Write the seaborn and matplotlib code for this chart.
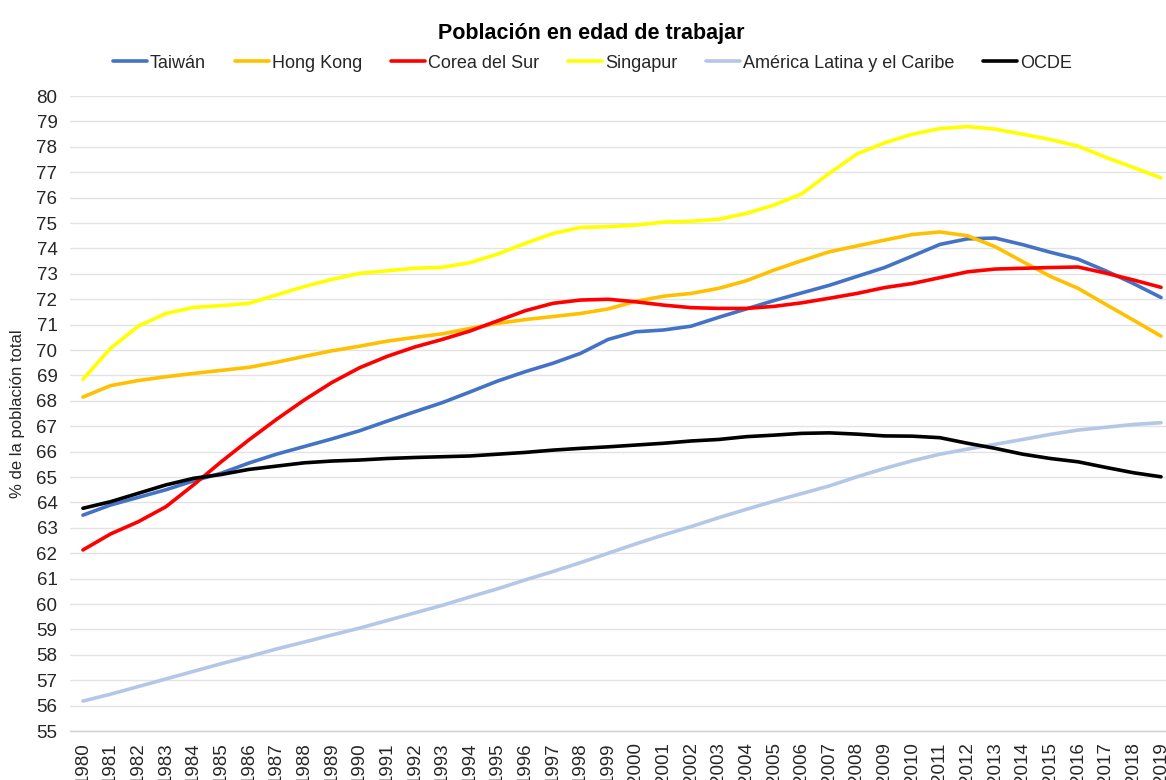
import numpy as np
import pandas as pd
import matplotlib
matplotlib.use("Agg")
import matplotlib.pyplot as plt
import seaborn as sns

# Datos (% de la población total, 15-64 años)
anios = list(range(1980, 2020))

taiwan = [63.5, 63.9, 64.2, 64.5, 64.85, 65.15, 65.55, 65.9, 66.2, 66.5,
          66.82, 67.2, 67.57, 67.93, 68.35, 68.78, 69.15, 69.48, 69.87, 70.42,
          70.72, 70.79, 70.94, 71.29, 71.62, 71.95, 72.25, 72.55, 72.9, 73.25,
          73.7, 74.16, 74.38, 74.41, 74.15, 73.85, 73.58, 73.12, 72.62, 72.07]

hong_kong = [68.15, 68.6, 68.8, 68.95, 69.08, 69.2, 69.32, 69.52, 69.75, 69.97,
             70.15, 70.35, 70.5, 70.64, 70.85, 71.05, 71.2, 71.32, 71.44, 71.62,
             71.92, 72.12, 72.23, 72.43, 72.73, 73.15, 73.52, 73.87, 74.1, 74.33,
             74.55, 74.65, 74.5, 74.07, 73.48, 72.9, 72.43, 71.8, 71.18, 70.55]

corea = [62.13, 62.76, 63.24, 63.83, 64.69, 65.6, 66.46, 67.27, 68.03, 68.72,
         69.3, 69.75, 70.12, 70.42, 70.75, 71.15, 71.55, 71.84, 71.97, 72.0,
         71.9, 71.77, 71.67, 71.64, 71.64, 71.72, 71.86, 72.04, 72.23, 72.46,
         72.62, 72.85, 73.08, 73.19, 73.22, 73.25, 73.27, 73.03, 72.76, 72.47]

singapur = [68.85, 70.07, 70.94, 71.44, 71.68, 71.75, 71.84, 72.17, 72.5, 72.78,
            73.02, 73.12, 73.22, 73.26, 73.44, 73.78, 74.2, 74.59, 74.83, 74.86,
            74.92, 75.04, 75.07, 75.15, 75.38, 75.71, 76.15, 76.96, 77.72, 78.16,
            78.5, 78.72, 78.8, 78.7, 78.5, 78.29, 78.03, 77.59, 77.19, 76.78]

america_latina = [56.18, 56.45, 56.75, 57.05, 57.35, 57.65, 57.93, 58.23, 58.5, 58.78,
                  59.05, 59.35, 59.65, 59.95, 60.28, 60.6, 60.95, 61.28, 61.63, 62.0,
                  62.37, 62.72, 63.05, 63.4, 63.73, 64.05, 64.35, 64.65, 65.01, 65.34,
                  65.64, 65.9, 66.1, 66.29, 66.48, 66.68, 66.85, 66.96, 67.07, 67.14]

ocde = [63.77, 64.03, 64.36, 64.69, 64.95, 65.1, 65.3, 65.43, 65.56, 65.63,
        65.67, 65.73, 65.77, 65.8, 65.83, 65.9, 65.97, 66.06, 66.13, 66.19,
        66.26, 66.33, 66.42, 66.48, 66.59, 66.65, 66.72, 66.74, 66.69, 66.62,
        66.61, 66.55, 66.33, 66.13, 65.9, 65.73, 65.6, 65.38, 65.17, 65.01]

series = ["Taiwán", "Hong Kong", "Corea del Sur", "Singapur",
          "América Latina y el Caribe", "OCDE"]
colores = ["#4472C4", "#FFC000", "#FF0000", "#FFFF00", "#B4C7E7", "#000000"]

df = pd.DataFrame({
    "anio": anios * 6,
    "valor": taiwan + hong_kong + corea + singapur + america_latina + ocde,
    "serie": np.repeat(series, len(anios)),
})

sns.set_theme(style="white")
plt.rcParams["font.family"] = ["Liberation Sans", "DejaVu Sans"]

fig = plt.figure(figsize=(11.66, 7.8), dpi=100)
ax = fig.add_axes([0.060, 0.0628, 0.940, 0.814])

sns.lineplot(data=df, x="anio", y="valor", hue="serie", hue_order=series,
             palette=colores, linewidth=2.6, ax=ax, legend=False)

ax.set_xlim(1979.53, 2019.18)
ax.set_ylim(55, 80)
ax.set_yticks(range(55, 81))
ax.set_xticks(anios)
ax.set_xticklabels([str(a) for a in anios], rotation=90, va="top")
ax.tick_params(axis="both", length=0, labelsize=13.5, colors="#262626")
ax.tick_params(axis="x", pad=8)
ax.tick_params(axis="y", pad=9)
ax.grid(axis="y", color="#e3e3e3", linewidth=1)
ax.set_axisbelow(True)
for lado in ["top", "right", "left"]:
    ax.spines[lado].set_visible(False)
ax.spines["bottom"].set_color("#d0d0d0")
ax.spines["bottom"].set_linewidth(1)

ax.set_xlabel("")
ax.set_ylabel("% de la población total", fontsize=12, color="#262626", labelpad=8)

# Leyenda arriba, en una sola fila
manejadores = [plt.Line2D([], [], color=c, linewidth=2.6) for c in colores]
fig.legend(manejadores, series, loc="center", bbox_to_anchor=(0.508, 0.919),
           ncol=6, frameon=False, fontsize=13, handlelength=1.9,
           handletextpad=0.15, columnspacing=1.6)

fig.suptitle("Población en edad de trabajar", x=0.507, y=0.97,
             fontsize=15.5, fontweight="bold", color="#000000")

fig.savefig("out.png", dpi=100)
